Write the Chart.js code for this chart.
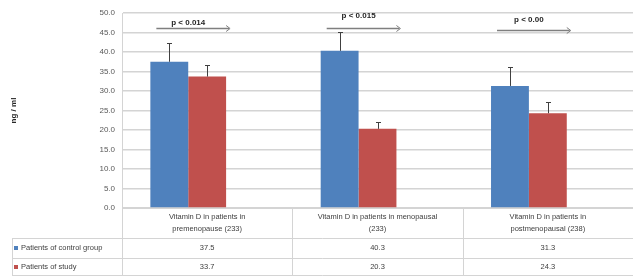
<!DOCTYPE html>
<html>
<head>
<meta charset="utf-8">
<script src="https://cdn.jsdelivr.net/npm/chart.js@4.4.1/dist/chart.umd.min.js"></script>
<style>
  html, body { margin: 0; padding: 0; background: #fff; }
</style>
</head>
<body>
<canvas id="chart" width="633" height="276"></canvas>
<script>
// ---- data ----
const categories = [
  ['Vitamin D in patients in', 'premenopause (233)'],
  ['Vitamin D in patients in menopausal', '(233)'],
  ['Vitamin D in patients in', 'postmenopausal (238)']
];
const seriesNames   = ['Patients of control group', 'Patients of study'];
const controlValues = [37.5, 40.3, 31.3];
const studyValues   = [33.7, 20.3, 24.3];
const controlErr    = [4.8, 4.9, 4.9];
const studyErr      = [3.0, 1.8, 3.0];
const pLabels       = ['p < 0.014', 'p < 0.015', 'p < 0.00'];
const pTextLevel    = [47.6, 49.4, 48.2];
const pLineLevel    = [46.2, 46.2, 45.6];
const yMin = 0, yMax = 50, yStep = 5;

const COLORS = ['#4F81BD', '#C0504D'];
const FONT   = '"Liberation Sans", Arial, sans-serif';
const GRID   = '#d4d4d4';

// error bars (plus direction only, like Excel)
const errorBars = {
  id: 'errorBars',
  afterDatasetsDraw(chart) {
    const { ctx, scales: { y } } = chart;
    const errs = [controlErr, studyErr];
    ctx.save();
    ctx.strokeStyle = '#404040';
    ctx.lineWidth = 1;
    errs.forEach((err, i) => {
      const meta = chart.getDatasetMeta(i);
      meta.data.forEach((bar, j) => {
        const v   = chart.data.datasets[i].data[j];
        const top = Math.round(y.getPixelForValue(v + err[j])) + 0.5;
        const x   = Math.round(bar.x) + 0.5;
        ctx.beginPath();
        ctx.moveTo(x, bar.y);
        ctx.lineTo(x, top);
        ctx.moveTo(x - 2.5, top);
        ctx.lineTo(x + 2.5, top);
        ctx.stroke();
      });
    });
    ctx.restore();
  }
};

// significance marks above each group
const pMarks = {
  id: 'pMarks',
  afterDatasetsDraw(chart) {
    const { ctx, scales: { y } } = chart;
    const m0 = chart.getDatasetMeta(0), m1 = chart.getDatasetMeta(1);
    ctx.save();
    pLabels.forEach((label, j) => {
      const b0 = m0.data[j], b1 = m1.data[j];
      const x1 = b0.x - b0.width / 2 + 6;
      const x2 = b1.x + b1.width / 2 + 3;
      const ly = Math.round(y.getPixelForValue(pLineLevel[j])) + 0.5;
      ctx.strokeStyle = '#7f7f7f';
      ctx.lineWidth = 1.5;
      ctx.beginPath();
      ctx.moveTo(x1, ly);
      ctx.lineTo(x2, ly);
      ctx.stroke();
      ctx.lineWidth = 1;
      ctx.beginPath();
      ctx.moveTo(x2 - 3, ly - 3);
      ctx.lineTo(x2 + 1, ly);
      ctx.lineTo(x2 - 3, ly + 3);
      ctx.stroke();
      ctx.fillStyle = '#262626';
      ctx.font = 'bold 8px ' + FONT;
      ctx.textAlign = 'center';
      ctx.textBaseline = 'middle';
      ctx.fillText(label, (b0.x + b1.x) / 2, y.getPixelForValue(pTextLevel[j]));
    });
    ctx.restore();
  }
};

// Excel-like data table under the plot
const dataTable = {
  id: 'dataTable',
  afterDraw(chart) {
    const { ctx, chartArea: a, width, height } = chart;
    const colW   = (a.right - a.left) / categories.length;
    const top    = a.bottom;
    const row1   = top + 30;
    const row2   = row1 + 20;
    const bottom = height - 0.5;
    const legendLeft = 12.5;
    const values = [controlValues, studyValues];

    ctx.save();
    ctx.strokeStyle = GRID;
    ctx.lineWidth = 1;
    ctx.beginPath();
    // axis line continues through the table
    ctx.moveTo(a.left + 0.5, a.top);
    ctx.lineTo(a.left + 0.5, height);
    for (let i = 1; i < categories.length; i++) {
      const x = Math.round(a.left + colW * i) + 0.5;
      ctx.moveTo(x, top);
      ctx.lineTo(x, height);
    }
    [row1, row2].forEach(r => {
      ctx.moveTo(legendLeft, Math.round(r) + 0.5);
      ctx.lineTo(width, Math.round(r) + 0.5);
    });
    ctx.moveTo(legendLeft, bottom);
    ctx.lineTo(width, bottom);
    ctx.moveTo(legendLeft, row1);
    ctx.lineTo(legendLeft, height);
    ctx.stroke();

    ctx.fillStyle = '#404040';
    ctx.textAlign = 'center';
    ctx.textBaseline = 'middle';
    ctx.font = '7.5px ' + FONT;
    categories.forEach((lines, i) => {
      const cx = a.left + colW * (i + 0.5);
      lines.forEach((t, k) => ctx.fillText(t, cx, top + 9 + k * 12));
      values.forEach((vals, s) => {
        const ry = s === 0 ? (row1 + row2) / 2 : (row2 + height) / 2;
        ctx.fillText(vals[i].toFixed(1), cx, ry);
      });
    });

    ctx.textAlign = 'left';
    seriesNames.forEach((name, s) => {
      const ry = s === 0 ? (row1 + row2) / 2 : (row2 + height) / 2;
      ctx.fillStyle = COLORS[s];
      ctx.fillRect(14, Math.round(ry) - 2, 4, 4);
      ctx.fillStyle = '#404040';
      ctx.fillText(name, 21, ry);
    });
    ctx.restore();
  }
};

new Chart(document.getElementById('chart'), {
  type: 'bar',
  data: {
    labels: categories,
    datasets: [
      { label: seriesNames[0], data: controlValues, backgroundColor: COLORS[0] },
      { label: seriesNames[1], data: studyValues,   backgroundColor: COLORS[1] },
      // empty slot: Excel leaves room for a third series, which shifts the bars left
      { label: '', data: categories.map(() => null), backgroundColor: 'rgba(0,0,0,0)' }
    ]
  },
  options: {
    responsive: false,
    animation: false,
    devicePixelRatio: 1,
    layout: { padding: { top: 13, right: 0, left: 0, bottom: 0 } },
    datasets: { bar: { categoryPercentage: 0.667, barPercentage: 1.0 } },
    plugins: { legend: { display: false }, tooltip: { enabled: false } },
    scales: {
      x: {
        ticks: { display: false },
        grid: { display: false },
        border: { display: true, color: GRID },
        afterFit: s => { s.height = 68; }
      },
      y: {
        min: yMin, max: yMax,
        ticks: {
          stepSize: yStep,
          padding: 7,
          color: '#595959',
          font: { size: 8, family: FONT },
          callback: v => v.toFixed(1)
        },
        grid: { color: GRID, lineWidth: 1.5, drawTicks: false },
        border: { display: true, color: GRID },
        title: {
          display: true,
          text: 'ng / ml',
          color: '#262626',
          font: { size: 8, weight: 'bold', family: FONT },
          padding: { top: 9 }
        },
        afterFit: s => { s.width = 122; }
      }
    }
  },
  plugins: [errorBars, pMarks, dataTable]
});
</script>
</body>
</html>
